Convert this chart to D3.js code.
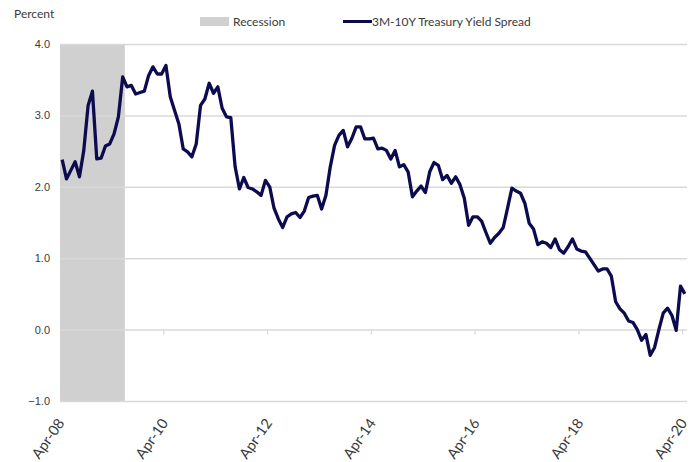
<!DOCTYPE html>
<html>
<head>
<meta charset="utf-8">
<script src="https://cdn.jsdelivr.net/npm/d3@7"></script>
<style>
  html, body { margin: 0; padding: 0; background: #fff; }
  svg { display: block; font-family: Lato, "Open Sans", sans-serif; }
</style>
</head>
<body>
<svg id="chart" width="697" height="462"></svg>
<script>
// Monthly categories, Apr-2008 through Apr-2020
const startMonth = new Date(2008, 3, 1);
const endMonth = new Date(2020, 4, 1);
const months = d3.timeMonth.range(startMonth, endMonth);

// 10-year minus 3-month Treasury yield, percent
const spread = [
  2.38, 2.11, 2.23, 2.35, 2.14, 2.51, 3.14, 3.34, 2.39, 2.40,
  2.57, 2.60, 2.74, 2.98, 3.54, 3.40, 3.42, 3.30, 3.32, 3.34,
  3.56, 3.68, 3.58, 3.58, 3.70, 3.26, 3.07, 2.88, 2.53, 2.49,
  2.42, 2.60, 3.14, 3.23, 3.45, 3.31, 3.40, 3.10, 2.98, 2.97,
  2.28, 1.97, 2.13, 1.99, 1.97, 1.93, 1.88, 2.09, 2.00, 1.70,
  1.55, 1.43, 1.58, 1.62, 1.64, 1.57, 1.66, 1.85, 1.87, 1.88,
  1.69, 1.88, 2.28, 2.58, 2.72, 2.79, 2.56, 2.68, 2.84, 2.84,
  2.67, 2.67, 2.68, 2.53, 2.54, 2.51, 2.39, 2.51, 2.28, 2.31,
  2.21, 1.86, 1.94, 2.01, 1.92, 2.21, 2.34, 2.30, 2.10, 2.16,
  2.05, 2.14, 2.03, 1.84, 1.46, 1.58, 1.58, 1.52, 1.36, 1.21,
  1.29, 1.35, 1.43, 1.70, 1.98, 1.94, 1.91, 1.77, 1.49, 1.41,
  1.19, 1.23, 1.21, 1.15, 1.27, 1.12, 1.07, 1.16, 1.27, 1.13,
  1.10, 1.09, 1.00, 0.91, 0.82, 0.85, 0.85, 0.75, 0.39, 0.29,
  0.23, 0.12, 0.10, 0.00, -0.15, -0.07, -0.36, -0.25, 0.00, 0.23,
  0.30, 0.20, -0.01, 0.61, 0.50
];

// NBER recession shading (Dec-2007 to Jun-2009), clipped to the chart window
const recessionFirst = 0;   // Apr-08
const recessionLast = 14;   // Jun-09

const yTicks = [-1, 0, 1, 2, 3, 4];
const labelEvery = 24;

const legendItems = ["Recession", "3M-10Y Treasury Yield Spread"];
const yTitle = "Percent";

const navy = "#0d0b4f";
const recessionGrey = "#d0d0d0";
const gridGrey = "#d9d9d9";
const textColor = "#3a3a3a";

const svg = d3.select("#chart");
const plot = { left: 60, right: 687, top: 44, bottom: 401 };

const x = d3.scaleBand()
  .domain(d3.range(months.length))
  .range([plot.left, plot.right])
  .paddingInner(0).paddingOuter(0);
const cx = i => x(i) + x.bandwidth() / 2;

const y = d3.scaleLinear().domain([-1, 4]).range([plot.bottom, plot.top]);

// recession band
svg.append("rect")
  .attr("x", x(recessionFirst))
  .attr("y", y(4))
  .attr("width", x(recessionLast) + x.bandwidth() - x(recessionFirst))
  .attr("height", y(-1) - y(4))
  .attr("fill", recessionGrey);

// horizontal gridlines + y labels
const yAxis = d3.axisLeft(y)
  .tickValues(yTicks)
  .tickFormat(d3.format(".1f"))
  .tickSize(-(plot.right - plot.left))
  .tickPadding(10);
const gy = svg.append("g")
  .attr("transform", `translate(${plot.left},0)`)
  .call(yAxis);
gy.select(".domain").remove();
gy.selectAll(".tick line").attr("stroke", gridGrey).attr("stroke-width", 1.5);
gy.selectAll(".tick text")
  .attr("fill", textColor)
  .style("font-size", "11px");

// small tick marks on the zero line at every second April
const tickIdx = d3.range(labelEvery, months.length + 1, labelEvery);
svg.append("g").selectAll("line")
  .data(tickIdx)
  .join("line")
  .attr("x1", i => x.range()[0] + i * x.step())
  .attr("x2", i => x.range()[0] + i * x.step())
  .attr("y1", y(0))
  .attr("y2", y(0) + 5)
  .attr("stroke", gridGrey)
  .attr("stroke-width", 1.2);

// rotated month labels
const fmt = d3.timeFormat("%b-%y");
svg.append("g").selectAll("text")
  .data(d3.range(0, months.length, labelEvery))
  .join("text")
  .attr("transform", i => `translate(${cx(i) + 3},${plot.bottom + 22}) rotate(-55)`)
  .attr("text-anchor", "end")
  .attr("fill", textColor)
  .style("font-size", "14.5px")
  .text(i => fmt(months[i]));

// spread line
const line = d3.line()
  .x((d, i) => cx(i))
  .y(d => y(d));
svg.append("path")
  .datum(spread)
  .attr("d", line)
  .attr("fill", "none")
  .attr("stroke", navy)
  .attr("stroke-width", 3.3)
  .attr("stroke-linejoin", "round");

// y title
svg.append("text")
  .attr("x", 14).attr("y", 18)
  .attr("fill", textColor)
  .style("font-size", "12px")
  .text(yTitle);

// legend
const legend = svg.append("g");
legend.append("rect")
  .attr("x", 200).attr("y", 17).attr("width", 29).attr("height", 9)
  .attr("fill", recessionGrey);
legend.append("text")
  .attr("x", 233).attr("y", 26)
  .attr("fill", textColor)
  .style("font-size", "12px")
  .text(legendItems[0]);
legend.append("line")
  .attr("x1", 343).attr("x2", 372).attr("y1", 21.5).attr("y2", 21.5)
  .attr("stroke", navy).attr("stroke-width", 3);
legend.append("text")
  .attr("x", 372).attr("y", 26)
  .attr("fill", textColor)
  .style("font-size", "12px")
  .text(legendItems[1]);
</script>
</body>
</html>
